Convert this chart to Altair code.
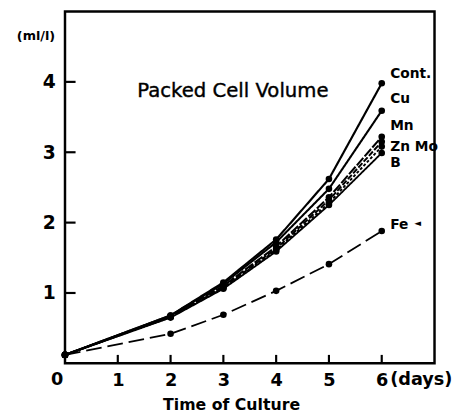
import altair as alt
import pandas as pd

days = [0, 2, 3, 4, 5, 6]
series_names = ["Cont.", "Cu", "Mn", "Zn", "Mo", "B", "Fe"]
cont = [0.12, 0.68, 1.15, 1.76, 2.62, 3.98]
cu = [0.12, 0.68, 1.13, 1.72, 2.48, 3.59]
mn = [0.12, 0.67, 1.10, 1.66, 2.36, 3.22]
zn = [0.12, 0.66, 1.08, 1.63, 2.32, 3.15]
mo = [0.12, 0.66, 1.07, 1.61, 2.28, 3.08]
b = [0.12, 0.65, 1.06, 1.59, 2.25, 2.99]
fe = [0.12, 0.42, 0.69, 1.03, 1.41, 1.88]

label_texts = ["Cont.", "Cu", "Mn", "Zn Mo", "B", "Fe"]
label_y = [4.11, 3.75, 3.37, 3.07, 2.84, 1.96]

dashes = [[1, 0], [1, 0], [10, 2], [6, 2], [3, 2], [1, 0], [16, 6]]
widths = [2.2, 1.8, 1.8, 1.6, 1.6, 1.6, 2.0]

xt = [1.0, 2.0, 3.0, 4.0, 5.0, 6.0]
yt = [1.0, 2.0, 3.0, 4.0]

rows = []
for name, vals in zip(series_names, [cont, cu, mn, zn, mo, b, fe]):
    for d, v in zip(days, vals):
        rows.append({"series": name, "day": float(d), "value": v})
df = pd.DataFrame(rows)

trows = []
for t in xt:
    trows.append({"tick": f"x{t}", "day": t, "value": 0.0, "o": 0})
    trows.append({"tick": f"x{t}", "day": t, "value": 0.12, "o": 1})
for t in yt:
    trows.append({"tick": f"y{t}", "day": 0.0, "value": t, "o": 0})
    trows.append({"tick": f"y{t}", "day": 0.2, "value": t, "o": 1})
tick_df = pd.DataFrame(trows)

labels_df = pd.DataFrame({"text": label_texts, "day": [6.16] * len(label_texts), "value": label_y})

xs = alt.Scale(domain=[0, 7], nice=False, zero=False)
ys = alt.Scale(domain=[0, 5], nice=False)

base = alt.Chart(df)

lines = base.mark_line(color="black").encode(
    x=alt.X("day:Q", scale=xs,
            axis=alt.Axis(values=[1, 2, 3, 4, 5, 6], format="d", ticks=False, domain=False, grid=False,
                          labelFontSize=18, labelFontWeight="bold", labelFont="DejaVu Sans",
                          labelColor="black", labelPadding=9,
                          title="Time of Culture", titleFont="DejaVu Sans", titleFontSize=16,
                          titleFontWeight="bold", titleColor="black", titleX=169, titleY=42,
                          titleBaseline="middle")),
    y=alt.Y("value:Q", scale=ys,
            axis=alt.Axis(values=[1, 2, 3, 4], format="d", ticks=False, domain=False, grid=False,
                          labelFontSize=19, labelFontWeight="bold", labelFont="DejaVu Sans",
                          labelColor="black", labelPadding=10,
                          title="(ml/l)", titleAngle=0, titleX=-30, titleY=24,
                          titleAlign="center", titleBaseline="middle",
                          titleFont="DejaVu Sans", titleFontSize=13, titleFontWeight="bold",
                          titleColor="black")),
    detail="series:N",
    strokeDash=alt.StrokeDash("series:N", scale=alt.Scale(domain=series_names, range=dashes), legend=None),
    strokeWidth=alt.StrokeWidth("series:N", scale=alt.Scale(domain=series_names, range=widths), legend=None),
)

points = base.mark_circle(color="black", opacity=1, size=45).encode(
    x=alt.X("day:Q", scale=xs), y=alt.Y("value:Q", scale=ys)
)

ticks = alt.Chart(tick_df).mark_line(color="black", strokeWidth=2.2).encode(
    x=alt.X("day:Q", scale=xs), y=alt.Y("value:Q", scale=ys),
    detail="tick:N", order="o:Q",
)

labels = alt.Chart(labels_df).mark_text(
    align="left", baseline="middle", font="DejaVu Sans", fontSize=14, fontWeight="bold", color="black"
).encode(x=alt.X("day:Q", scale=xs), y=alt.Y("value:Q", scale=ys), text="text:N")

title_df = pd.DataFrame({"text": ["Packed Cell Volume"], "day": [3.18], "value": [3.87]})
title = alt.Chart(title_df).mark_text(
    align="center", baseline="middle", font="DejaVu Sans", fontSize=20, color="black",
    stroke="black", strokeWidth=0.4
).encode(x=alt.X("day:Q", scale=xs), y=alt.Y("value:Q", scale=ys), text="text:N")

zero_df = pd.DataFrame({"text": ["0"], "day": [-0.15], "value": [0.0]})
zero = alt.Chart(zero_df).mark_text(
    align="center", baseline="middle", font="DejaVu Sans", fontSize=18, fontWeight="bold",
    color="black", dy=17
).encode(x=alt.X("day:Q", scale=xs), y=alt.Y("value:Q", scale=ys), text="text:N")

days_df = pd.DataFrame({"text": ["(days)"], "day": [6.16], "value": [0.0]})
dayslab = alt.Chart(days_df).mark_text(
    align="left", baseline="middle", font="DejaVu Sans", fontSize=18, fontWeight="bold",
    color="black", dy=17
).encode(x=alt.X("day:Q", scale=xs), y=alt.Y("value:Q", scale=ys), text="text:N")

arrow_df = pd.DataFrame({"text": ["◄"], "day": [6.68], "value": [2.0]})
arrow = alt.Chart(arrow_df).mark_text(fontSize=9, color="black", font="DejaVu Sans").encode(
    x=alt.X("day:Q", scale=xs), y=alt.Y("value:Q", scale=ys), text="text:N")

chart = alt.layer(lines, points, ticks, labels, title, zero, dayslab, arrow).properties(
    width=376, height=358,
    autosize=alt.AutoSizeParams(type="none"),
    padding={"left": 58, "top": 0, "right": 30, "bottom": 50},
).configure_view(stroke="black", strokeWidth=2.5)

chart.save("out.html", embed_options={"renderer": "svg", "actions": False})
